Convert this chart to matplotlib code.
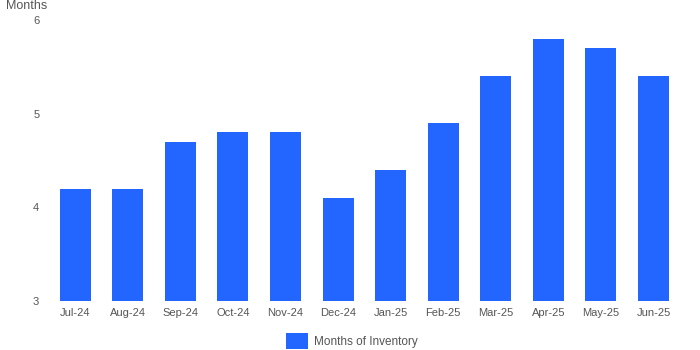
import numpy as np
import matplotlib.pyplot as plt

plt.rcParams['font.family'] = ['Liberation Sans', 'DejaVu Sans']

# 数据
months = ['Jul-24', 'Aug-24', 'Sep-24', 'Oct-24', 'Nov-24', 'Dec-24',
          'Jan-25', 'Feb-25', 'Mar-25', 'Apr-25', 'May-25', 'Jun-25']
inventory = [4.2, 4.2, 4.7, 4.8, 4.8, 4.1, 4.4, 4.9, 5.4, 5.8, 5.7, 5.4]
y_ticks = [3, 4, 5, 6]

bar_color = '#2266ff'
text_color = '#555555'

fig = plt.figure(figsize=(7, 3.5), dpi=100)
ax = fig.add_axes([0.07, 0.14, 0.901, 0.803])

x = np.arange(len(months))
base = y_ticks[0]
ax.bar(x, np.array(inventory) - base, bottom=base, width=0.59,
       color=bar_color, label='Months of Inventory')

ax.set_xlim(-0.5, len(months) - 0.5)
ax.set_ylim(y_ticks[0], y_ticks[-1])
ax.set_xticks(x)
ax.set_xticklabels(months)
ax.set_yticks(y_ticks)
ax.tick_params(length=0, labelsize=8, labelcolor=text_color)
ax.tick_params(axis='y', pad=7)
ax.tick_params(axis='x', pad=5)
for s in ax.spines.values():
    s.set_visible(False)

fig.text(47 / 700, 1.0, 'Months', ha='right', va='top', fontsize=9, color=text_color)

# 图例
leg = ax.legend(loc='lower center', bbox_to_anchor=(0.5 - 0.02, -0.209), frameon=False,
                fontsize=8.5, handlelength=1.9, handleheight=1.7, handletextpad=0.5)
for t in leg.get_texts():
    t.set_color(text_color)

plt.savefig('out.png', dpi=100)
